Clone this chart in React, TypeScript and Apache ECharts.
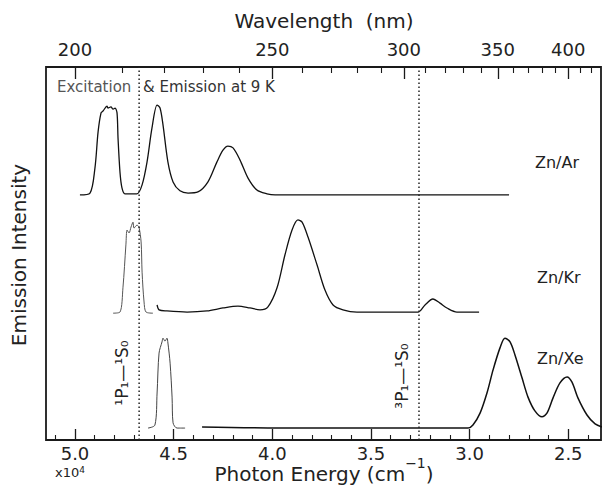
import React, { useEffect, useRef } from "react";
import * as echarts from "echarts";

// Photon energy axis (units of 10^4 cm^-1)
const energyMajor = [5.0, 4.5, 4.0, 3.5, 3.0, 2.5];
const energyMinor = [5.1, 4.9, 4.8, 4.7, 4.6, 4.4, 4.3, 4.2, 4.1, 3.9, 3.8, 3.7, 3.6, 3.4, 3.3, 3.2, 3.1, 2.9, 2.8, 2.7, 2.6, 2.4];
// Wavelength axis (nm)
const wavelengthMajor = [200, 250, 300, 350, 400];
const wavelengthMinor = [210, 220, 230, 240, 260, 270, 280, 290, 310, 320, 330, 340, 360, 370, 380, 390, 410, 420];

// Zn atomic transitions (10^4 cm^-1)
const transitionEnergies = [4.675, 3.2565];

// Spectra: [photon energy (10^4 cm^-1), offset intensity]
const arSpectrum: [number, number][] = [
  [4.975, 65.7], [4.924, 66.2], [4.899, 72.9], [4.883, 82.6], [4.868, 87.7], [4.858, 88.2],
  [4.838, 89.5], [4.833, 89.0], [4.818, 89.3], [4.807, 88.7], [4.797, 89.0], [4.787, 87.7],
  [4.782, 81.0], [4.772, 71.8], [4.762, 67.6], [4.747, 66.0], [4.686, 66.0], [4.66, 68.4],
  [4.635, 74.5], [4.61, 83.6], [4.584, 89.8], [4.569, 89.0], [4.554, 84.5], [4.529, 74.5],
  [4.503, 69.2], [4.468, 66.8], [4.427, 66.2], [4.377, 66.5], [4.326, 69.2], [4.281, 74.5],
  [4.25, 77.7], [4.225, 78.8], [4.199, 78.3], [4.164, 75.1], [4.123, 70.2], [4.078, 67.0],
  [4.027, 66.0], [3.986, 65.7], [2.8, 65.7],
];
const krExcitation: [number, number][] = [
  [4.807, 34.0], [4.772, 34.3], [4.757, 40.8], [4.742, 52.3], [4.736, 56.3], [4.726, 55.5],
  [4.716, 57.1], [4.706, 58.4], [4.701, 56.8], [4.686, 57.6], [4.676, 57.1], [4.665, 53.1],
  [4.66, 45.0], [4.65, 37.0], [4.64, 34.3], [4.605, 34.0],
];
const krEmission: [number, number][] = [
  [4.584, 36.2], [4.574, 34.9], [4.534, 34.6], [4.432, 34.3], [4.331, 34.6], [4.25, 35.4],
  [4.174, 35.9], [4.113, 35.4], [4.062, 34.9], [4.022, 35.7], [3.976, 40.8], [3.936, 49.6],
  [3.9, 56.3], [3.87, 59.0], [3.849, 58.4], [3.819, 54.4], [3.773, 46.9], [3.733, 40.2],
  [3.692, 36.2], [3.642, 34.9], [3.571, 34.3], [3.262, 34.3], [3.226, 36.2], [3.186, 37.8],
  [3.15, 36.7], [3.115, 35.4], [3.064, 34.3], [2.952, 34.3],
];
const xeExcitation: [number, number][] = [
  [4.63, 3.2], [4.595, 4.0], [4.584, 12.6], [4.574, 23.3], [4.559, 26.3], [4.554, 27.3],
  [4.544, 26.5], [4.534, 27.3], [4.529, 26.0], [4.518, 20.6], [4.508, 11.5], [4.503, 4.6],
  [4.483, 3.2], [4.442, 3.2],
];
const xeEmission: [number, number][] = [
  [4.356, 3.5], [3.86, 3.2], [3.008, 3.2], [2.983, 4.0], [2.947, 7.2], [2.912, 12.6],
  [2.881, 18.8], [2.846, 24.7], [2.821, 27.3], [2.795, 26.3], [2.77, 22.8], [2.734, 16.6],
  [2.704, 11.5], [2.669, 7.8], [2.633, 6.2], [2.608, 7.2], [2.577, 11.3], [2.542, 15.3],
  [2.506, 16.9], [2.481, 15.5], [2.451, 11.3], [2.405, 6.7], [2.364, 4.3], [2.329, 3.5],
];

const FONT = "DejaVu Sans";
const INK = "#1a1a1a";

export default function App() {
  const ref = useRef<HTMLDivElement>(null);
  useEffect(() => {
    if (!ref.current) return;
    const chart = echarts.init(ref.current, undefined, { renderer: "svg" });
    const xMin = 2.334;
    const xMax = 5.147;
    const baseAxis = {
      type: "value" as const,
      min: xMin,
      max: xMax,
      inverse: true,
      axisLine: { show: false },
      splitLine: { show: false },
    };
    const spectrumSeries = (data: [number, number][], color: string, width: number) => ({
      type: "line",
      data,
      xAxisIndex: 0,
      yAxisIndex: 0,
      showSymbol: false,
      symbol: "none",
      smooth: 0.3,
      lineStyle: { color, width },
      silent: true,
    });
    const transitionSeries = transitionEnergies.map((e) => ({
      type: "line",
      data: [[e, 0], [e, 100]],
      xAxisIndex: 0,
      yAxisIndex: 0,
      symbol: "none",
      lineStyle: { color: "#222", width: 1.5, type: [1.5, 2.5] },
      silent: true,
    }));
    chart.setOption({
      animation: false,
      backgroundColor: "#fff",
      grid: {
        left: 46,
        right: 1,
        top: 67,
        bottom: 51,
        show: true,
        borderColor: INK,
        borderWidth: 1.8,
      },
      xAxis: [
        {
          ...baseAxis,
          position: "bottom",
          axisTick: { show: true, inside: true, length: 11, customValues: energyMajor, lineStyle: { color: INK, width: 1.3 } },
          axisLabel: {
            show: true,
            customValues: energyMajor,
            margin: 3,
            fontSize: 18,
            lineHeight: 20,
            fontFamily: FONT,
            color: "#222",
            formatter: (v: number) => v.toFixed(1),
          },
        },
        {
          ...baseAxis,
          position: "bottom",
          axisTick: { show: true, inside: true, length: 5, customValues: energyMinor, lineStyle: { color: INK, width: 1.1 } },
          axisLabel: { show: false },
        },
        {
          ...baseAxis,
          position: "top",
          axisTick: { show: true, inside: true, length: 12, customValues: wavelengthMajor.map((w) => 1000 / w), lineStyle: { color: INK, width: 1.3 } },
          axisLabel: {
            show: true,
            customValues: wavelengthMajor.map((w) => 1000 / w),
            margin: 9,
            fontSize: 18,
            fontFamily: FONT,
            color: "#222",
            formatter: (v: number) => String(Math.round(1000 / v)),
          },
        },
        {
          ...baseAxis,
          position: "top",
          axisTick: { show: true, inside: true, length: 6, customValues: wavelengthMinor.map((w) => 1000 / w), lineStyle: { color: INK, width: 1.1 } },
          axisLabel: { show: false },
        },
      ],
      yAxis: {
        type: "value",
        min: 0,
        max: 100,
        axisLine: { show: false },
        axisTick: { show: false },
        axisLabel: { show: false },
        splitLine: { show: false },
      },
      series: [
        spectrumSeries(arSpectrum, "#111", 1.3),
        spectrumSeries(krExcitation, "#555", 1.0),
        spectrumSeries(krEmission, "#111", 1.3),
        spectrumSeries(xeExcitation, "#444", 1.0),
        spectrumSeries(xeEmission, "#111", 1.5),
        ...transitionSeries,
      ],
      graphic: [
        {
          type: "text",
          x: 324,
          y: 21,
          style: { text: "Wavelength  (nm)", fontSize: 20, fontFamily: FONT, fill: "#222", align: "center", verticalAlign: "middle" },
        },
        {
          type: "text",
          x: 324,
          y: 470,
          style: {
            text: "{a|Photon Energy (cm}{s|−1}{a|)}",
            fontFamily: FONT,
            fill: "#222",
            align: "center",
            verticalAlign: "middle",
            rich: {
              a: { fontSize: 20, fontFamily: FONT, fill: "#222", lineHeight: 28, verticalAlign: "bottom" },
              s: { fontSize: 14, fontFamily: FONT, fill: "#222", lineHeight: 28, verticalAlign: "top" },
            },
          },
        },
        {
          type: "text",
          x: 70,
          y: 472,
          style: {
            text: "{a|x10}{s|4}",
            fontFamily: FONT,
            fill: "#222",
            align: "center",
            verticalAlign: "middle",
            rich: {
              a: { fontSize: 13, fontFamily: FONT, fill: "#222", lineHeight: 13, verticalAlign: "bottom" },
              s: { fontSize: 9, fontFamily: FONT, fill: "#222", lineHeight: 13, verticalAlign: "top" },
            },
          },
        },
        {
          type: "text",
          x: 19,
          y: 255,
          rotation: Math.PI / 2,
          style: { text: "Emission Intensity", fontSize: 20, fontFamily: FONT, fill: "#222", align: "center", verticalAlign: "middle" },
        },
        {
          type: "text",
          x: 57,
          y: 87,
          style: { text: "Excitation", fontSize: 15, fontFamily: FONT, fill: "#555", align: "left", verticalAlign: "middle" },
        },
        {
          type: "text",
          x: 143,
          y: 87,
          style: { text: "& Emission at 9 K", fontSize: 15, fontFamily: FONT, fill: "#333", align: "left", verticalAlign: "middle" },
        },
        {
          type: "text",
          x: 535,
          y: 162,
          style: { text: "Zn/Ar", fontSize: 16, fontFamily: FONT, fill: "#222", align: "left", verticalAlign: "middle" },
        },
        {
          type: "text",
          x: 537,
          y: 277,
          style: { text: "Zn/Kr", fontSize: 16, fontFamily: FONT, fill: "#222", align: "left", verticalAlign: "middle" },
        },
        {
          type: "text",
          x: 537,
          y: 358,
          style: { text: "Zn/Xe", fontSize: 16, fontFamily: FONT, fill: "#222", align: "left", verticalAlign: "middle" },
        },
        {
          type: "text",
          x: 122,
          y: 373,
          rotation: Math.PI / 2,
          style: { text: "¹P₁—¹S₀", fontSize: 17, fontFamily: FONT, fill: "#222", align: "center", verticalAlign: "middle" },
        },
        {
          type: "text",
          x: 402,
          y: 376,
          rotation: Math.PI / 2,
          style: { text: "³P₁—¹S₀", fontSize: 17, fontFamily: FONT, fill: "#222", align: "center", verticalAlign: "middle" },
        },
      ],
    });
    return () => chart.dispose();
  }, []);
  return (
    <div
      ref={ref}
      style={{ position: "fixed", left: 0, top: 0, width: 602, height: 491, background: "#fff" }}
    />
  );
}
